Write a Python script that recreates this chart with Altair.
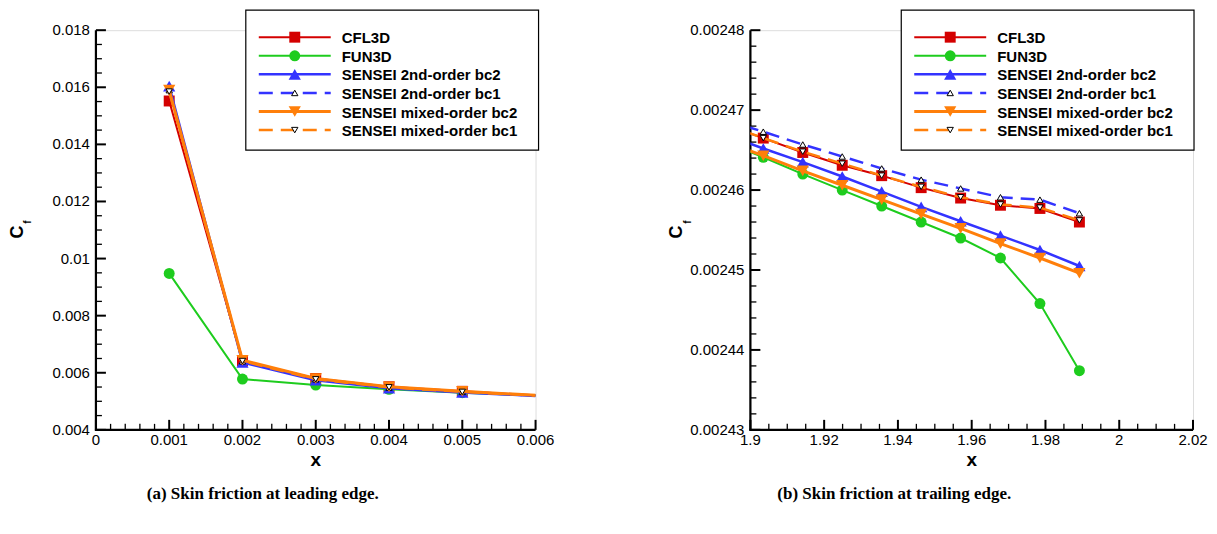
import altair as alt
import pandas as pd
import numpy as np

SERIES = ["CFL3D", "FUN3D", "SENSEI 2nd-order bc2", "SENSEI 2nd-order bc1",
          "SENSEI mixed-order bc2", "SENSEI mixed-order bc1"]

# ---- (a) leading edge ----
LE_X = [0.001, 0.002, 0.003, 0.004, 0.005, 0.006]
LE_CFL3D = [0.01552, 0.00642, 0.00580, 0.00551, 0.00535, 0.00521]
LE_FUN3D = [0.00948, 0.00578, 0.00557, 0.00542, 0.00530, 0.00520]
LE_S2_BC2 = [0.01604, 0.00636, 0.00574, 0.00546, 0.00531, 0.00519]
LE_S2_BC1 = [0.01590, 0.00640, 0.00577, 0.00548, 0.00533, 0.00520]
LE_SM_BC2 = [0.01590, 0.00644, 0.00580, 0.00551, 0.00535, 0.00521]
LE_SM_BC1 = [0.01585, 0.00641, 0.00577, 0.00549, 0.00533, 0.00520]
LE_MARKER_COUNT = 5

# ---- (b) trailing edge ----
TE_X = [1.8928, 1.9035, 1.9142, 1.9249, 1.9356, 1.9463, 1.9570, 1.9678, 1.9785, 1.9892]
TE_CFL3D = [0.0024682, 0.0024665, 0.0024647, 0.0024631, 0.0024618, 0.0024603,
            0.0024590, 0.0024581, 0.0024577, 0.0024560]
TE_FUN3D = [0.0024661, 0.0024641, 0.0024620, 0.0024600, 0.0024580, 0.0024560,
            0.0024540, 0.0024515, 0.0024458, 0.0024374]
TE_S2_BC2 = [0.0024670, 0.0024652, 0.0024635, 0.0024617, 0.0024598, 0.0024579,
             0.0024561, 0.0024543, 0.0024525, 0.0024505]
TE_S2_BC1 = [0.0024688, 0.0024673, 0.0024657, 0.0024642, 0.0024627, 0.0024613,
             0.0024602, 0.0024591, 0.0024588, 0.0024571]
TE_SM_BC2 = [0.0024661, 0.0024643, 0.0024624, 0.0024606, 0.0024588, 0.0024570,
             0.0024552, 0.0024533, 0.0024515, 0.0024496]
TE_SM_BC1 = [0.0024683, 0.0024665, 0.0024648, 0.0024633, 0.0024618, 0.0024604,
             0.0024591, 0.0024582, 0.0024578, 0.0024562]
TE_MARKER_START = 1

LE_XTICKS = [0, 0.001, 0.002, 0.003, 0.004, 0.005, 0.006]
LE_YTICKS = [0.004, 0.006, 0.008, 0.01, 0.012, 0.014, 0.016, 0.018]
TE_XTICKS = [1.9, 1.92, 1.94, 1.96, 1.98, 2.0, 2.02]
TE_YTICKS = [0.00243, 0.00244, 0.00245, 0.00246, 0.00247, 0.00248]

RED, GREEN, BLUE, ORANGE = "#d40000", "#1ecc1e", "#3333ff", "#ff7f0a"
STYLE = {
    "CFL3D": dict(color=RED, width=2, dash=None, shape="square", size=120, small=False),
    "FUN3D": dict(color=GREEN, width=2, dash=None, shape="circle", size=120, small=False),
    "SENSEI 2nd-order bc2": dict(color=BLUE, width=2.5, dash=None, shape="triangle-up", size=150, small=False),
    "SENSEI 2nd-order bc1": dict(color=BLUE, width=2.5, dash=[14, 8], shape="triangle-up", size=40, small=True),
    "SENSEI mixed-order bc2": dict(color=ORANGE, width=3, dash=None, shape="triangle-down", size=150, small=False),
    "SENSEI mixed-order bc1": dict(color=ORANGE, width=2.5, dash=[14, 8], shape="triangle-down", size=40, small=True),
}

FONT = "Liberation Sans"
W_L, W_R, H = 440, 443, 400


def minor(majors, n):
    out = []
    for a, b in zip(majors[:-1], majors[1:]):
        step = (b - a) / (n + 1)
        out += [a + step * k for k in range(1, n + 1)]
    return out


def fmt(v):
    return "{:g}".format(round(v, 10))


def panel(xs_list, series_vals, mstart, mend, xdom, ydom, xticks, yticks, nxm, nym,
          width, cap, cap_x, c_x, f_x, leg_x0):
    xs = alt.Scale(domain=xdom, nice=False, zero=False)
    ys = alt.Scale(domain=ydom, nice=False, zero=False)

    def X(f="x"):
        return alt.X(f + ":Q", scale=xs, axis=None)

    def Y(f="y"):
        return alt.Y(f + ":Q", scale=ys, axis=None)

    one = pd.DataFrame({"d": [0]})
    layers = []
    # axis lines
    layers.append(alt.Chart(one).mark_rule(color="black", strokeWidth=2.2).encode(
        x=alt.value(-1), x2=alt.value(width), y=alt.value(H)))
    layers.append(alt.Chart(one).mark_rule(color="black", strokeWidth=2.2).encode(
        x=alt.value(0), y=alt.value(0), y2=alt.value(H + 1)))
    # inward ticks
    for vals, length, sw in [(xticks, 10, 2), (minor(xticks, nxm), 6, 1.3)]:
        layers.append(alt.Chart(pd.DataFrame({"x": vals})).mark_rule(
            color="black", strokeWidth=sw).encode(
            x=X(), y=alt.value(H), y2=alt.value(H - length)))
    for vals, length, sw in [(yticks, 10, 2), (minor(yticks, nym), 6, 1.3)]:
        layers.append(alt.Chart(pd.DataFrame({"y": vals})).mark_rule(
            color="black", strokeWidth=sw).encode(
            y=Y(), x=alt.value(0), x2=alt.value(length)))
    # tick labels
    layers.append(alt.Chart(pd.DataFrame({"x": xticks, "lab": [fmt(v) for v in xticks]})).mark_text(
        font=FONT, fontSize=15, color="black", align="center", baseline="alphabetic").encode(
        x=X(), y=alt.value(H + 15.5), text="lab:N"))
    layers.append(alt.Chart(pd.DataFrame({"y": yticks, "lab": [fmt(v) for v in yticks]})).mark_text(
        font=FONT, fontSize=15, color="black", align="right", baseline="middle").encode(
        y=Y(), x=alt.value(-6), text="lab:N"))
    # x title
    layers.append(alt.Chart(pd.DataFrame({"t": ["x"]})).mark_text(
        font=FONT, fontSize=19, fontWeight="bold", color="black", align="center",
        baseline="alphabetic").encode(x=alt.value(width / 2), y=alt.value(H + 36.5), text="t:N"))
    # data
    for name, vals in zip(SERIES, series_vals):
        st = STYLE[name]
        df = pd.DataFrame({"x": xs_list, "y": vals})
        lkw = dict(color=st["color"], strokeWidth=st["width"], clip=True)
        if st["dash"]:
            lkw["strokeDash"] = st["dash"]
        layers.append(alt.Chart(df).mark_line(**lkw).encode(x=X(), y=Y()))
        mdf = df.iloc[mstart:mend]
        if st["small"]:
            pk = dict(shape=st["shape"], size=st["size"], filled=True, fill="white",
                      stroke="black", strokeWidth=1, opacity=1)
        else:
            pk = dict(shape=st["shape"], size=st["size"], filled=True,
                      color=st["color"], opacity=1)
        layers.append(alt.Chart(mdf).mark_point(**pk).encode(x=X(), y=Y()))
    # legend
    layers.append(alt.Chart(one).mark_rect(fill="white", stroke="black", strokeWidth=1.2).encode(
        x=alt.value(leg_x0), x2=alt.value(leg_x0 + 293), y=alt.value(-20), y2=alt.value(120)))
    for i, name in enumerate(SERIES):
        st = STYLE[name]
        yy = 7 + i * 18.6
        lx0, lx1 = leg_x0 + 13, leg_x0 + 85
        rk = dict(color=st["color"], strokeWidth=st["width"])
        if st["dash"]:
            rk["strokeDash"] = st["dash"]
        layers.append(alt.Chart(one).mark_rule(**rk).encode(
            x=alt.value(lx0), x2=alt.value(lx1), y=alt.value(yy)))
        if st["small"]:
            pk = dict(shape=st["shape"], size=st["size"], filled=True, fill="white",
                      stroke="black", strokeWidth=1, opacity=1)
        else:
            pk = dict(shape=st["shape"], size=st["size"], filled=True,
                      color=st["color"], opacity=1)
        layers.append(alt.Chart(one).mark_point(**pk).encode(
            x=alt.value((lx0 + lx1) / 2), y=alt.value(yy)))
        layers.append(alt.Chart(pd.DataFrame({"label": [name]})).mark_text(
            align="left", baseline="middle", font=FONT, fontSize=15, fontWeight="bold",
            color="black").encode(x=alt.value(leg_x0 + 96), y=alt.value(yy + 1), text="label:N"))
    # y title C_f
    layers.append(alt.Chart(pd.DataFrame({"t": ["C"]})).mark_text(
        angle=270, font=FONT, fontSize=18, fontWeight="bold", color="black",
        baseline="middle", align="center").encode(
        x=alt.value(c_x), y=alt.value(202), text="t:N"))
    layers.append(alt.Chart(pd.DataFrame({"t": ["f"]})).mark_text(
        angle=270, font=FONT, fontSize=10, fontWeight="bold", color="black",
        baseline="middle", align="center").encode(
        x=alt.value(f_x), y=alt.value(192), text="t:N"))
    # caption
    layers.append(alt.Chart(pd.DataFrame({"t": [cap]})).mark_text(
        font="Liberation Serif", fontSize=17, fontWeight="bold", color="black",
        baseline="middle", align="center").encode(
        x=alt.value(cap_x), y=alt.value(464), text="t:N"))
    return alt.layer(*layers).properties(width=width, height=H)


left = panel(LE_X, [LE_CFL3D, LE_FUN3D, LE_S2_BC2, LE_S2_BC1, LE_SM_BC2, LE_SM_BC1],
             0, LE_MARKER_COUNT, [0, 0.006], [0.004, 0.018], LE_XTICKS, LE_YTICKS, 4, 3,
             W_L, "(a) Skin friction at leading edge.", 167, -78, -68, 150)
right = panel(TE_X, [TE_CFL3D, TE_FUN3D, TE_S2_BC2, TE_S2_BC1, TE_SM_BC2, TE_SM_BC1],
              TE_MARKER_START, len(TE_X), [1.9, 2.02], [0.00243, 0.00248], TE_XTICKS, TE_YTICKS,
              3, 4, W_R, "(b) Skin friction at trailing edge.", 144, -73, -62, 151)

chart = alt.hconcat(left, right, spacing=112).properties(
    padding={"left": 0, "top": 0, "right": 0, "bottom": 0}
).configure_view(stroke=None).configure(background="white")

chart.save("out.html", embed_options={"renderer": "svg", "actions": False})
